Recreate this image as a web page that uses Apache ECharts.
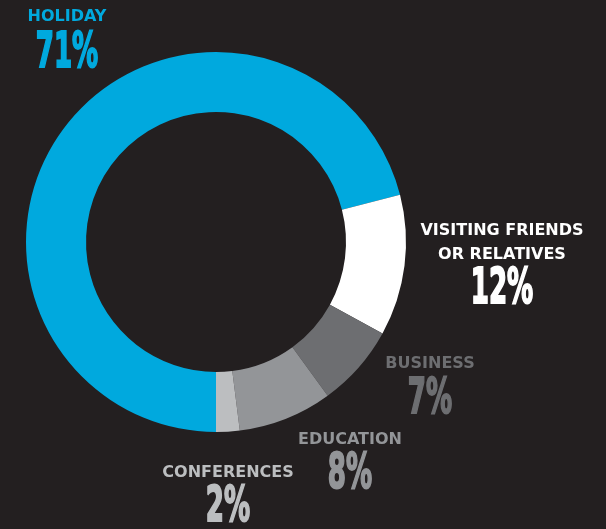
<!DOCTYPE html>
<html>
<head>
<meta charset="utf-8">
<script src="https://cdn.jsdelivr.net/npm/echarts@6/dist/echarts.min.js"></script>
<style>
  html, body { margin: 0; padding: 0; background: #231f20; }
  #chart { width: 606px; height: 529px; }
</style>
</head>
<body>
<div id="chart"></div>
<script>
// Purpose of trips, share of visitors (%)
const categories = ['HOLIDAY', 'VISITING FRIENDS\nOR RELATIVES', 'BUSINESS', 'EDUCATION', 'CONFERENCES'];
const shares = [71, 12, 7, 8, 2];
const colors = ['#00a9de', '#ffffff', '#6d6e71', '#939598', '#bcbec0'];

// Where each caption block sits: centre x, centre y of the name, centre y of the figure
const captionSpots = [
  [67, 17, 54],
  [502, 243, 290],
  [430, 364, 400],
  [350, 440, 475],
  [228, 473, 508]
];

const nameFont = 'bold 16px "DejaVu Sans"';
const figureFont = 'bold 50px "DejaVu Sans Condensed", "DejaVu Sans", sans-serif';

const chart = echarts.init(document.getElementById('chart'), null, { renderer: 'canvas' });

const captions = [];
categories.forEach((name, i) => {
  const [cx, nameY, figY] = captionSpots[i];
  captions.push({
    type: 'text',
    x: cx,
    y: nameY,
    silent: true,
    style: {
      text: name,
      font: nameFont,
      fill: colors[i],
      align: 'center',
      verticalAlign: 'middle',
      lineHeight: 24
    }
  });
  // big percentage, squeezed into a tall condensed figure
  captions.push({
    type: 'text',
    x: cx,
    y: figY,
    scaleX: 0.58,
    silent: true,
    style: {
      text: shares[i] + '%',
      font: figureFont,
      fill: colors[i],
      stroke: colors[i],
      lineWidth: 2,
      align: 'center',
      verticalAlign: 'middle'
    }
  });
});

chart.setOption({
  backgroundColor: '#231f20',
  animation: false,
  series: [{
    type: 'pie',
    radius: [130, 190],
    center: [216, 242],
    startAngle: 270,
    clockwise: true,
    silent: true,
    label: { show: false },
    labelLine: { show: false },
    itemStyle: { borderWidth: 0 },
    data: categories.map((name, i) => ({
      name: name,
      value: shares[i],
      itemStyle: { color: colors[i] }
    }))
  }],
  graphic: captions
});
</script>
</body>
</html>
